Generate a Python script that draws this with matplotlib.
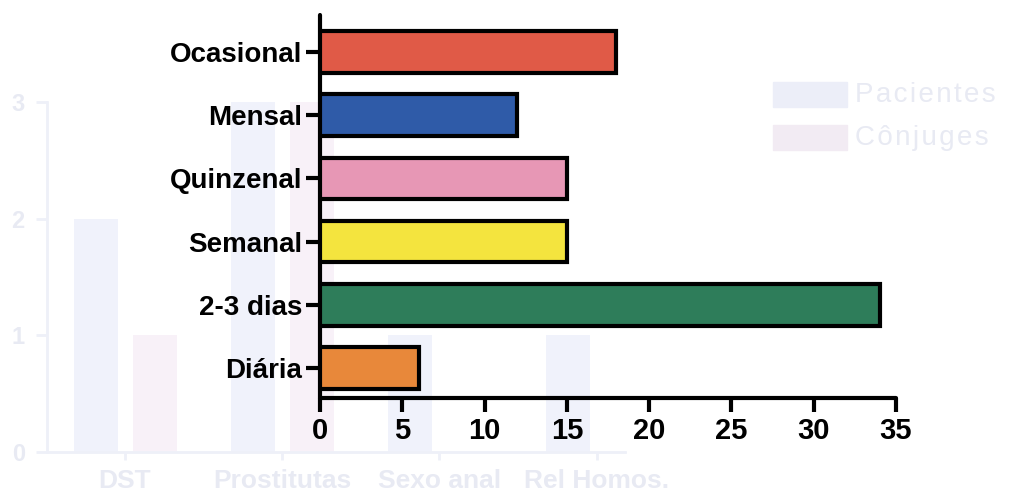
import matplotlib
matplotlib.use('Agg')
import matplotlib.pyplot as plt

plt.rcParams.update({
    'font.family': ['Liberation Sans', 'DejaVu Sans'],
    'font.weight': 'bold',
})

# ── Data ──
categories = ['Diária', '2-3 dias', 'Semanal', 'Quinzenal', 'Mensal', 'Ocasional']
values = [6, 34, 15, 15, 12, 18]
bar_colors = ['#e8883a', '#2e7d5a', '#f4e43e', '#e797b5', '#2f5ba8', '#e05a47']
x_ticks = [0, 5, 10, 15, 20, 25, 30, 35]

# faded chart printed underneath
bg_categories = ['DST', 'Prostitutas', 'Sexo anal', 'Rel Homos.']
bg_pacientes = [2, 3, 1, 1]
bg_conjuges = [1, 3, 0, 0]
bg_series = ['Pacientes', 'Cônjuges']

W, H = 1015, 496
fig = plt.figure(figsize=(W / 100, H / 100), dpi=100)
fig.patch.set_facecolor('white')

GHOST_TXT = '#e8eaf3'
GHOST_LINE = '#eef0f8'

# ── Background (faded) chart ──
bg = fig.add_axes([47 / W, (H - 452) / H, (625 - 47) / W, 350 / H])
bg.set_facecolor('none')
pos = list(range(len(bg_categories)))
bg.bar([p - 0.185 for p in pos], bg_pacientes, width=0.28, color='#f0f2fb', zorder=1)
bg.bar([p + 0.19 for p in pos], bg_conjuges, width=0.28, color='#f8f1f8', zorder=1)
bg.set_xlim(-0.496, 3.18)
bg.set_ylim(0, 3)
bg.set_yticks([0, 1, 2, 3])
bg.set_xticks(pos)
bg.set_xticklabels(bg_categories, fontsize=19, color=GHOST_TXT, fontweight='bold')
bg.tick_params(axis='y', colors=GHOST_LINE, labelcolor=GHOST_TXT, labelsize=17,
               width=2, length=8, pad=8)
bg.tick_params(axis='x', colors=GHOST_LINE, labelcolor=GHOST_TXT, width=2, length=6, pad=6)
for s in ['top', 'right']:
    bg.spines[s].set_visible(False)
for s in ['left', 'bottom']:
    bg.spines[s].set_color(GHOST_LINE)
    bg.spines[s].set_linewidth(2)

# faded legend
for i, (name, col) in enumerate(zip(bg_series, ['#eceef8', '#f2ebf3'])):
    y = (H - 95 - i * 43) / H
    fig.patches.append(plt.Rectangle((773 / W, y - 12 / H), 74 / W, 25 / H,
                                     transform=fig.transFigure, color=col, zorder=0))
    fig.text(855 / W, y, '\u200a'.join(name), fontsize=20,
             fontweight='normal', color=GHOST_TXT, va='center', ha='left')

# ── Main horizontal bar chart ──
ax = fig.add_axes([320 / W, (H - 398) / H, (896 - 320) / W, (398 - 15) / H])
ax.set_facecolor('none')
ypos = list(range(len(categories)))
ax.barh(ypos, values, height=0.66, color=bar_colors, edgecolor='black',
        linewidth=3, zorder=3)

ax.set_xlim(0, 35)
ax.set_ylim(-0.475, 5.585)
ax.set_xticks(x_ticks)
ax.set_xticklabels([str(t) for t in x_ticks], fontsize=21, fontweight='bold')
ax.set_yticks(ypos)
ax.set_yticklabels(categories, fontsize=20, fontweight='bold')
ax.tick_params(axis='both', width=3, length=10, color='black')
ax.tick_params(axis='y', pad=3)
ax.tick_params(axis='x', pad=4)
for s in ['top', 'right']:
    ax.spines[s].set_visible(False)
for s in ['left', 'bottom']:
    ax.spines[s].set_linewidth(3)
    ax.spines[s].set_capstyle('round')

fig.savefig('out.png', dpi=100)
